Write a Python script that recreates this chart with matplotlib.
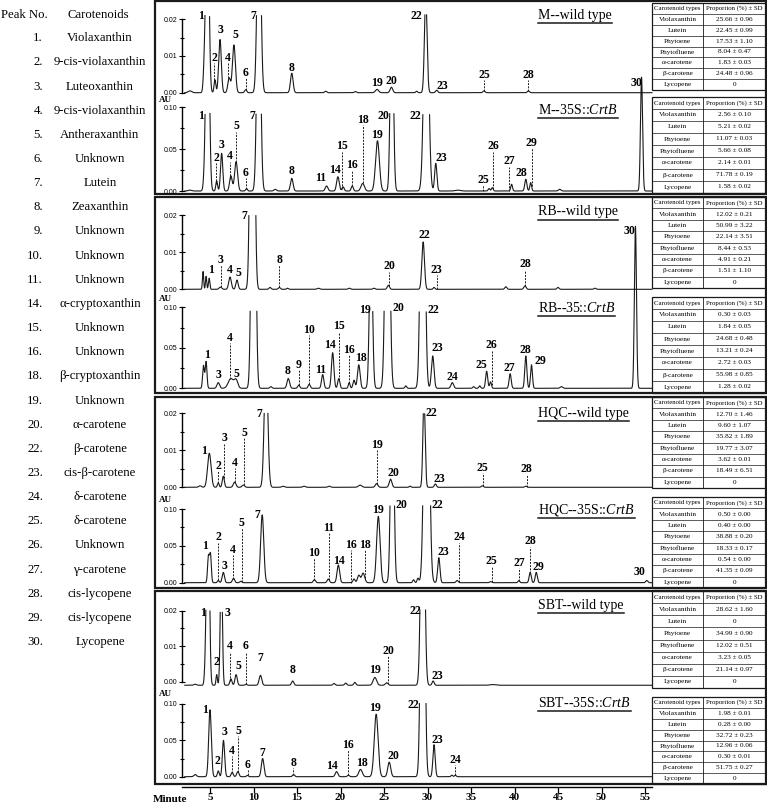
import numpy as np
import matplotlib.pyplot as plt
from matplotlib.patches import Rectangle

plt.rcParams['font.family'] = ['Liberation Serif', 'DejaVu Serif']
plt.rcParams['mathtext.fontset'] = 'custom'
plt.rcParams['mathtext.rm'] = 'Liberation Serif'
plt.rcParams['mathtext.it'] = 'Liberation Serif:italic'

W, H = 767, 806

# peak list on the left
peak_numbers = [1, 2, 3, 4, 5, 6, 7, 8, 9, 10, 11, 14, 15, 16, 18, 19, 20, 22, 23, 24, 25, 26, 27, 28, 29, 30]
peak_names = ['Violaxanthin', '9-cis-violaxanthin', 'Luteoxanthin', '9-cis-violaxanthin', 'Antheraxanthin',
              'Unknown', 'Lutein', 'Zeaxanthin', 'Unknown', 'Unknown', 'Unknown', 'α-cryptoxanthin',
              'Unknown', 'Unknown', 'β-cryptoxanthin', 'Unknown', 'α-carotene', 'β-carotene',
              'cis-β-carotene', 'δ-carotene', 'δ-carotene', 'Unknown', 'γ-carotene', 'cis-lycopene',
              'cis-lycopene', 'Lycopene']

sample_titles = ['M--wild type', r'M--35S::$\mathit{CrtB}$',
                 'RB--wild type', r'RB--35::$\mathit{CrtB}$',
                 'HQC--wild type', r'HQC--35S::$\mathit{CrtB}$',
                 'SBT--wild type', r'SBT--35S::$\mathit{CrtB}$']

# chromatogram peaks: (retention time [min], height [AU], width sigma [min])
m_wt_peaks = [(2.7, 0.0005, 0.2), (4.35, 0.006, 0.12), (4.7, 0.06, 0.17), (5.57, 0.0035, 0.1),
              (6.15, 0.0145, 0.15), (7.2, 0.004, 0.15), (7.75, 0.013, 0.17), (9.1, 0.0008, 0.12),
              (10.63, 0.06, 0.2), (14.4, 0.0053, 0.15), (18.3, 0.0004, 0.12), (21.7, 0.0003, 0.12),
              (24.2, 0.0009, 0.18), (25.85, 0.0015, 0.15), (28.75, 0.0004, 0.1), (29.8, 0.026, 0.15),
              (31.05, 0.0007, 0.12), (36.5, 0.0005, 0.12), (41.6, 0.0005, 0.12)]
m_crtb_peaks = [(2.7, 0.001, 0.2), (4.35, 0.01, 0.12), (4.72, 0.3, 0.18), (5.77, 0.012, 0.1),
                (6.34, 0.045, 0.13), (7.4, 0.018, 0.15), (8.0, 0.035, 0.17), (9.2, 0.003, 0.1),
                (10.6, 0.3, 0.2), (12.5, 0.002, 0.15), (14.4, 0.015, 0.15), (18.4, 0.006, 0.15),
                (19.7, 0.017, 0.15), (20.3, 0.005, 0.12), (21.35, 0.006, 0.12), (22.55, 0.009, 0.2),
                (24.25, 0.06, 0.22), (25.9, 0.25, 0.17), (29.85, 0.3, 0.25), (30.95, 0.033, 0.13),
                (33.5, 0.001, 0.3), (37.07, 0.003, 0.1), (37.45, 0.004, 0.1), (39.67, 0.008, 0.1),
                (41.3, 0.014, 0.12), (41.86, 0.010, 0.1), (45.2, 0.002, 0.15), (54.6, 0.136, 0.12)]
rb_wt_peaks = [(4.2, 0.0048, 0.07), (4.55, 0.0035, 0.07), (4.9, 0.003, 0.08), (6.2, 0.0006, 0.15),
               (7.3, 0.0033, 0.15), (8.1, 0.0025, 0.13), (9.87, 0.15, 0.2), (11.9, 0.0005, 0.12),
               (12.97, 0.0005, 0.12), (13.9, 0.0003, 0.1), (17.45, 0.0003, 0.15), (21.0, 0.0003, 0.12),
               (23.85, 0.0003, 0.12), (25.5, 0.0011, 0.13), (29.5, 0.0128, 0.15), (30.75, 0.0005, 0.1),
               (39.0, 0.0007, 0.12), (41.2, 0.0009, 0.13), (45.0, 0.0005, 0.12), (49.25, 0.0003, 0.12)]
rb_crtb_peaks = [(4.25, 0.028, 0.1), (4.55, 0.033, 0.1), (5.95, 0.007, 0.15), (7.4, 0.012, 0.3),
                 (8.0, 0.01, 0.2), (10.0, 0.6, 0.2), (12.0, 0.002, 0.12), (14.0, 0.012, 0.15),
                 (15.2, 0.004, 0.12), (16.4, 0.005, 0.12), (17.95, 0.017, 0.13), (19.1, 0.044, 0.14),
                 (19.8, 0.012, 0.12), (21.0, 0.007, 0.1), (21.55, 0.01, 0.12), (22.1, 0.029, 0.15),
                 (23.5, 0.2, 0.17), (25.4, 0.45, 0.22), (27.5, 0.003, 0.1), (29.45, 0.5, 0.22),
                 (30.6, 0.04, 0.15), (32.85, 0.007, 0.15), (35.3, 0.002, 0.1), (36.0, 0.003, 0.1),
                 (36.8, 0.021, 0.12), (37.25, 0.008, 0.1), (39.5, 0.018, 0.12), (41.3, 0.04, 0.12),
                 (41.95, 0.029, 0.11), (45.4, 0.002, 0.15), (53.9, 0.2, 0.12)]
hqc_wt_peaks = [(3.85, 0.0004, 0.15), (4.92, 0.0092, 0.2), (5.95, 0.0012, 0.1), (6.53, 0.003, 0.12),
                (7.83, 0.0014, 0.15), (8.83, 0.0006, 0.15), (11.44, 0.035, 0.2), (13.4, 0.0003, 0.15),
                (15.8, 0.0003, 0.15), (18.7, 0.0003, 0.15), (22.25, 0.0006, 0.2), (24.15, 0.001, 0.15),
                (25.75, 0.0022, 0.15), (28.0, 0.0003, 0.1), (29.6, 0.024, 0.13), (30.9, 0.0009, 0.12),
                (36.3, 0.0004, 0.12), (41.3, 0.0003, 0.12)]
hqc_crtb_peaks = [(4.82, 0.035, 0.1), (5.05, 0.038, 0.1), (5.95, 0.003, 0.1), (6.53, 0.014, 0.13),
                  (7.7, 0.006, 0.13), (8.55, 0.002, 0.12), (11.0, 0.092, 0.18), (17.0, 0.004, 0.13),
                  (18.6, 0.005, 0.13), (19.75, 0.024, 0.15), (21.55, 0.005, 0.12), (22.1, 0.01, 0.15),
                  (22.6, 0.013, 0.18), (24.35, 0.09, 0.2), (25.95, 0.3, 0.18), (28.4, 0.004, 0.1),
                  (28.9, 0.006, 0.1), (29.9, 0.55, 0.25), (31.3, 0.034, 0.13), (33.4, 0.003, 0.12),
                  (37.25, 0.0015, 0.12), (40.5, 0.003, 0.1), (41.8, 0.014, 0.12), (42.5, 0.014, 0.12),
                  (55.2, 0.003, 0.12)]
sbt_wt_peaks = [(3.3, 0.0003, 0.15), (4.5, 0.005, 0.12), (4.77, 0.065, 0.15), (5.77, 0.003, 0.08),
                (6.3, 0.035, 0.12), (7.4, 0.0018, 0.12), (8.0, 0.003, 0.13), (9.15, 0.0003, 0.1),
                (10.8, 0.0028, 0.15), (14.5, 0.0012, 0.13), (19.25, 0.0005, 0.12), (20.6, 0.0006, 0.12),
                (21.65, 0.0008, 0.12), (23.95, 0.0022, 0.2), (25.3, 0.0007, 0.15), (29.45, 0.08, 0.2),
                (30.65, 0.0012, 0.12), (37.5, 0.0002, 0.3)]
sbt_crtb_peaks = [(3.3, 0.003, 0.15), (5.0, 0.092, 0.15), (5.95, 0.008, 0.1), (6.55, 0.05, 0.13),
                  (7.55, 0.006, 0.12), (8.2, 0.007, 0.13), (9.3, 0.002, 0.1), (11.05, 0.025, 0.15),
                  (14.6, 0.003, 0.12), (19.55, 0.007, 0.15), (20.9, 0.002, 0.12), (22.3, 0.01, 0.2),
                  (24.1, 0.086, 0.22), (25.6, 0.02, 0.17), (29.45, 0.6, 0.2), (30.75, 0.044, 0.13),
                  (32.8, 0.002, 0.1), (33.2, 0.002, 0.1)]
all_peaks = [m_wt_peaks, m_crtb_peaks, rb_wt_peaks, rb_crtb_peaks,
             hqc_wt_peaks, hqc_crtb_peaks, sbt_wt_peaks, sbt_crtb_peaks]

# peak labels: (text, minute, label baseline AU, dashed leader)
m_wt_labels = [('1', 3.93, 0.0200, False), ('2', 5.5, 0.0086, True), ('3', 6.15, 0.0164, False),
               ('4', 7.1, 0.0086, True), ('5', 7.87, 0.015, False), ('6', 9.1, 0.0045, True),
               ('7', 9.98, 0.020, False), ('8', 14.4, 0.0059, False), ('19', 24.15, 0.0018, False),
               ('20', 25.8, 0.0023, False), ('22', 28.75, 0.020, False), ('23', 31.75, 0.0009, False),
               ('25', 36.53, 0.0041, True), ('28', 41.6, 0.0041, True)]
m_crtb_labels = [('1', 3.93, 0.0857, False), ('2', 5.69, 0.0359, True), ('3', 6.34, 0.0518, False),
                 ('4', 7.3, 0.0378, True), ('5', 7.99, 0.0737, True), ('6', 9.14, 0.018, True),
                 ('7', 9.9, 0.0857, False), ('8', 14.39, 0.020, False), ('11', 17.72, 0.012, False),
                 ('14', 19.37, 0.0219, False), ('15', 20.13, 0.0498, True), ('16', 21.36, 0.0279, True),
                 ('18', 22.55, 0.0817, True), ('19', 24.16, 0.0637, False), ('20', 24.92, 0.0857, False),
                 ('22', 28.56, 0.0857, False), ('23', 31.63, 0.0359, False), ('25', 36.42, 0.010, True),
                 ('26', 37.57, 0.0498, True), ('27', 39.4, 0.0319, True), ('28', 40.82, 0.018, False),
                 ('29', 41.97, 0.0538, True), ('30', 54.0, 0.126, False)]
rb_wt_labels = [('1', 5.08, 0.0045, False), ('3', 6.23, 0.0072, True), ('4', 7.3, 0.0045, False),
                ('5', 8.26, 0.0036, False), ('7', 8.9, 0.0189, False), ('8', 12.97, 0.0072, True),
                ('20', 25.6, 0.0054, True), ('22', 29.6, 0.0140, False), ('23', 31.05, 0.0045, True),
                ('28', 41.2, 0.0059, True)]
rb_crtb_labels = [('1', 4.62, 0.0379, False), ('3', 5.96, 0.0132, False), ('4', 7.3, 0.0584, True),
                  ('5', 7.99, 0.014, False), ('8', 13.93, 0.0173, False), ('9', 15.23, 0.0255, True),
                  ('10', 16.42, 0.0687, True), ('11', 17.76, 0.0193, False), ('14', 18.79, 0.0502, False),
                  ('15', 19.87, 0.0728, True), ('16', 21.02, 0.044, True), ('18', 22.36, 0.0337, False),
                  ('19', 22.82, 0.0934, False), ('20', 26.65, 0.0955, False), ('22', 30.67, 0.0934, False),
                  ('23', 31.13, 0.0461, False), ('24', 32.85, 0.0099, False), ('25', 36.23, 0.0255, False),
                  ('26', 37.37, 0.0502, True), ('27', 39.4, 0.0214, False), ('28', 41.2, 0.044, False),
                  ('29', 42.93, 0.0296, False), ('30', 53.2, 0.19, False)]
hqc_wt_labels = [('1', 4.35, 0.0089, False), ('2', 5.96, 0.0049, True), ('3', 6.61, 0.0125, True),
                 ('4', 7.87, 0.0058, True), ('5', 8.91, 0.0139, True), ('7', 10.67, 0.019, False),
                 ('19', 24.16, 0.0107, True), ('20', 26.07, 0.0031, False), ('22', 30.48, 0.0193, False),
                 ('23', 31.36, 0.0013, False), ('25', 36.34, 0.0044, True), ('28', 41.4, 0.004, True)]
hqc_crtb_labels = [('1', 4.43, 0.0452, False), ('2', 5.96, 0.0575, True), ('3', 6.61, 0.019, False),
                   ('4', 7.6, 0.0407, True), ('5', 8.64, 0.0769, True), ('7', 10.44, 0.0873, False),
                   ('10', 16.99, 0.0362, True), ('11', 18.68, 0.0701, True), ('14', 19.83, 0.0258, False),
                   ('16', 21.21, 0.0475, True), ('18', 22.82, 0.0475, True), ('19', 24.35, 0.095, False),
                   ('20', 27.03, 0.1009, False), ('22', 31.13, 0.1009, False), ('23', 31.82, 0.0376, False),
                   ('24', 33.66, 0.0575, True), ('25', 37.37, 0.0249, True), ('27', 40.52, 0.0226, True),
                   ('28', 41.78, 0.052, True), ('29', 42.74, 0.0172, False), ('30', 54.4, 0.0104, False)]
sbt_wt_labels = [('1', 4.16, 0.0185, False), ('2', 5.77, 0.0046, False), ('3', 6.99, 0.0185, False),
                 ('4', 7.3, 0.0091, True), ('5', 8.26, 0.0035, False), ('6', 9.14, 0.0091, True),
                 ('7', 10.82, 0.0058, False), ('8', 14.5, 0.0025, False), ('19', 23.97, 0.0025, False),
                 ('20', 25.5, 0.0077, True), ('22', 28.56, 0.019, False), ('23', 31.13, 0.0007, False)]
sbt_crtb_labels = [('1', 4.43, 0.088, False), ('2', 5.88, 0.0179, False), ('3', 6.61, 0.0569, False),
                   ('4', 7.49, 0.0317, True), ('5', 8.26, 0.0583, True), ('6', 9.33, 0.0124, True),
                   ('7', 11.05, 0.0284, False), ('8', 14.58, 0.0147, True), ('14', 18.98, 0.0101, False),
                   ('16', 20.9, 0.0399, True), ('18', 22.43, 0.0147, False), ('19', 23.97, 0.0904, False),
                   ('20', 26.07, 0.0239, False), ('22', 28.37, 0.094, False), ('23', 31.13, 0.0468, False),
                   ('24', 33.16, 0.0193, True)]
all_labels = [m_wt_labels, m_crtb_labels, rb_wt_labels, rb_crtb_labels,
              hqc_wt_labels, hqc_crtb_labels, sbt_wt_labels, sbt_crtb_labels]

# proportion tables
carotenoid_types = ['Violaxanthin', 'Lutein', 'Phytoene', 'Phytofluene', 'α-carotene', 'β-carotene', 'Lycopene']
m_wt_mean = [25.66, 22.45, 17.53, 8.04, 1.83, 24.48, 0]
m_wt_sd = [0.96, 0.99, 1.10, 0.47, 0.03, 0.96, None]
m_crtb_mean = [2.56, 5.21, 11.07, 5.66, 2.14, 71.78, 1.58]
m_crtb_sd = [0.10, 0.02, 0.03, 0.08, 0.01, 0.19, 0.02]
rb_wt_mean = [12.02, 50.99, 22.14, 8.44, 4.91, 1.51, 0]
rb_wt_sd = [0.21, 3.22, 3.51, 0.53, 0.21, 1.10, None]
rb_crtb_mean = [0.30, 1.84, 24.68, 13.21, 2.72, 55.98, 1.28]
rb_crtb_sd = [0.03, 0.05, 0.48, 0.24, 0.03, 0.85, 0.02]
hqc_wt_mean = [12.70, 9.60, 35.82, 19.77, 3.62, 18.49, 0]
hqc_wt_sd = [1.46, 1.07, 1.89, 3.07, 0.01, 6.51, None]
hqc_crtb_mean = [0.50, 0.40, 38.88, 18.33, 0.54, 41.35, 0]
hqc_crtb_sd = [0.00, 0.00, 0.20, 0.17, 0.00, 0.09, None]
sbt_wt_mean = [28.62, 0, 34.99, 12.02, 3.23, 21.14, 0]
sbt_wt_sd = [1.60, None, 0.90, 0.51, 0.05, 0.97, None]
sbt_crtb_mean = [1.98, 0.28, 32.72, 12.96, 0.30, 51.75, 0]
sbt_crtb_sd = [0.01, 0.00, 0.23, 0.06, 0.01, 0.27, None]
all_means = [m_wt_mean, m_crtb_mean, rb_wt_mean, rb_crtb_mean, hqc_wt_mean, hqc_crtb_mean, sbt_wt_mean, sbt_crtb_mean]
all_sds = [m_wt_sd, m_crtb_sd, rb_wt_sd, rb_crtb_sd, hqc_wt_sd, hqc_crtb_sd, sbt_wt_sd, sbt_crtb_sd]

# ---- layout (pixels) ----
# zero_px, top_tick_px, top_tick_value, axes_top, axes_bottom, clip level, baseline
panel_geo = [(92.7, 19.3, 0.02, 3, 96, 0.0212, 0.0),
             (191.0, 107.3, 0.10, 97, 193, 0.093, 0.0),
             (289.3, 215.3, 0.02, 199, 292, 0.0201, 0.0),
             (388.3, 307.3, 0.10, 293, 391, 0.0967, 0.0),
             (487.3, 413.3, 0.02, 399, 490, 0.0202, 0.0),
             (582.7, 509.0, 0.10, 491, 586, 0.1068, 0.0),
             (681.7, 610.7, 0.02, 593, 684, 0.0202, -0.001),
             (776.7, 704.0, 0.10, 685, 781, 0.1037, 0.0)]
title_y = [15, 110, 212, 308, 413, 510, 605, 703]
table_rows = [(3, 90), (97, 193), (197, 288), (297, 393), (397, 488), (497, 588), (591, 688), (697, 784)]
boxes = [(1, 194), (197, 393), (397, 588), (591, 784)]
au_y = [100, 299, 500, 694]
X_LEFT, X_RIGHT = 182, 652
XLIM = (5 + (X_LEFT - 210) / 8.7, 5 + (X_RIGHT - 210) / 8.7)
INK = '#1a1a1a'


def px_rect(x0, y0, x1, y1):
    return [x0 / W, 1 - y1 / H, (x1 - x0) / W, (y1 - y0) / H]


fig = plt.figure(figsize=(W / 100, H / 100), dpi=100)
ov = fig.add_axes([0, 0, 1, 1])
ov.set_xlim(0, W)
ov.set_ylim(H, 0)
ov.axis('off')

# left legend of peaks
ov.text(1, 15, 'Peak No.', fontsize=9.2, va='center', ha='left')
ov.text(98, 15, 'Carotenoids', fontsize=9.2, va='center', ha='center')
for i, (n, name) in enumerate(zip(peak_numbers, peak_names)):
    y = 38.3 + 24.15 * i
    ov.text(43, y, f'{n}.', fontsize=9.2, va='center', ha='right')
    ov.text(100, y, name, fontsize=9.2, va='center', ha='center')

# group boxes
for top, bot in boxes:
    ov.add_patch(Rectangle((155, top), 766 - 155, bot - top, fill=False, lw=1.6, ec=INK))

# tables
for k, (top, bot) in enumerate(table_rows):
    x0, xm, x1 = 652, 703, 766
    rh = (bot - top) / 8
    ov.add_patch(Rectangle((x0, top), x1 - x0, bot - top, fill=False, lw=0.9, ec=INK))
    ov.plot([xm, xm], [top, bot], color=INK, lw=0.6)
    for r in range(1, 8):
        ov.plot([x0, x1], [top + r * rh, top + r * rh], color=INK, lw=0.5)
    ov.text((x0 + xm) / 2, top + rh / 2, 'Carotenoid types', fontsize=4.9, ha='center', va='center')
    ov.text((xm + x1) / 2, top + rh / 2, 'Proportion (%) ± SD', fontsize=4.9, ha='center', va='center')
    for r, (name, mu, sd) in enumerate(zip(carotenoid_types, all_means[k], all_sds[k])):
        yc = top + (r + 1.5) * rh
        val = '0' if sd is None else f'{mu:.2f} ± {sd:.2f}'
        ov.text((x0 + xm) / 2, yc, name, fontsize=5.2, ha='center', va='center')
        ov.text((xm + x1) / 2, yc, val, fontsize=5.2, ha='center', va='center')

# AU labels
for y in au_y:
    ov.text(165, y, 'AU', fontsize=6.5, fontweight='bold', ha='center', va='center')

# chromatograms
t = np.arange(2.1, XLIM[1], 0.004)
for i in range(8):
    zero_px, tick_px, tickval, top_px, bot_px, clip, base = panel_geo[i]
    ax = fig.add_axes(px_rect(X_LEFT, top_px, X_RIGHT, bot_px))
    scale = tickval / (zero_px - tick_px)
    ax.set_ylim((zero_px - bot_px) * scale, (zero_px - top_px) * scale)
    ax.set_xlim(XLIM)
    ax.patch.set_visible(False)
    for s in ['top', 'right', 'bottom']:
        ax.spines[s].set_visible(False)
    ax.spines['left'].set_bounds(0, tickval)
    ax.spines['left'].set_linewidth(1.0)
    ax.set_xticks([])
    ax.set_yticks([0, tickval / 2, tickval])
    ax.set_yticks(np.arange(0, tickval * 1.01, tickval / 4), minor=True)
    ax.set_yticklabels([f'{v:.2f}' for v in [0, tickval / 2, tickval]],
                       fontsize=5, family='Liberation Sans')
    ax.tick_params(axis='y', which='major', direction='inout', length=5, width=0.8, pad=1)
    ax.tick_params(axis='y', which='minor', direction='inout', length=3.5, width=0.8)

    trace = base + sum(h * np.exp(-(t - rt) ** 2 / (2 * s ** 2)) for rt, h, s in all_peaks[i])
    shown = trace.copy()
    shown[(trace > clip) & (t < 50)] = np.nan
    ax.plot(t, shown, color=INK, lw=0.8, clip_on=False)

    for txt, x, yv, dashed in all_labels[i]:
        ax.text(x, yv, txt, fontsize=8.5, fontweight='bold', ha='center', va='baseline', clip_on=False)
        if dashed:
            y0 = np.interp(x, t, trace)
            ax.plot([x, x], [y0, yv - 0.03 * tickval], color=INK, lw=0.7, ls=(0, (2, 1.3)))

# sample titles with underline
fig.canvas.draw()
renderer = fig.canvas.get_renderer()
inv = ov.transData.inverted()
for title, y in zip(sample_titles, title_y):
    tx = ov.text(538, y, title, fontsize=10, ha='left', va='center')
    bb = tx.get_window_extent(renderer)
    (xa, _), (xb, _) = inv.transform([[bb.x0, bb.y0], [bb.x1, bb.y1]])
    ov.plot([xa, xb], [y + 8, y + 8], color=INK, lw=1.1)

# time axis
axx = fig.add_axes(px_rect(X_LEFT, 770, X_RIGHT, 787))
axx.set_xlim(XLIM)
axx.patch.set_visible(False)
for s in ['top', 'right', 'left']:
    axx.spines[s].set_visible(False)
axx.spines['bottom'].set_linewidth(1.0)
axx.set_yticks([])
axx.set_xticks(range(5, 60, 5))
axx.tick_params(axis='x', direction='out', length=4, width=0.9, labelsize=8, pad=0.5)
for lab in axx.get_xticklabels():
    lab.set_fontweight('bold')
ov.text(170, 799, 'Minute', fontsize=8, fontweight='bold', ha='center', va='center')

fig.savefig('out.png', dpi=100)
